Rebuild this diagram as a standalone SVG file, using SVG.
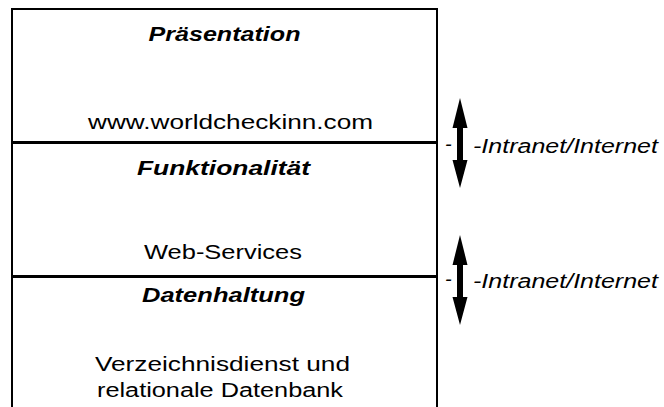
<svg xmlns="http://www.w3.org/2000/svg" width="664" height="407" viewBox="0 0 664 407">
  <style>
    .frame { fill: none; stroke: #000; stroke-width: 2; }
    .divider { stroke: #000; stroke-width: 3; }
    .head { font-family: "Liberation Sans", Arial, sans-serif; font-size: 20px; font-weight: bold; font-style: italic; fill: #000; text-anchor: middle; }
    .body { font-family: "Liberation Sans", Arial, sans-serif; font-size: 20px; fill: #000; text-anchor: middle; }
    .net { font-family: "Liberation Sans", Arial, sans-serif; font-size: 20px; font-style: italic; fill: #000; }
    .arrow { fill: #000; }
  </style>
  <defs>
    <!-- double-headed vertical arrow, centred on (0,0) -->
    <polygon id="dbl" points="0,-45 7.5,-15 3,-15 3,17 7.5,17 0,45 -7.5,17 -3,17 -3,-15 -7.5,-15"/>
  </defs>

  <!-- outer frame (open at the bottom) -->
  <g id="frame">
    <path class="frame" d="M12,408 V9 H437 V408"/>
  </g>

  <g id="connectors">
    <line class="divider" x1="12" y1="142.5" x2="437" y2="142.5"/>
    <line class="divider" x1="12" y1="276.5" x2="437" y2="276.5"/>
  </g>

  <g id="praesentation">
    <text class="head" x="224.5" y="41" textLength="152" lengthAdjust="spacingAndGlyphs">Präsentation</text>
    <text class="body" x="230.5" y="129" textLength="285" lengthAdjust="spacingAndGlyphs">www.worldcheckinn.com</text>
  </g>

  <g id="funktionalitaet">
    <text class="head" x="223.5" y="175" textLength="173" lengthAdjust="spacingAndGlyphs">Funktionalität</text>
    <text class="body" x="223" y="259" textLength="158" lengthAdjust="spacingAndGlyphs">Web-Services</text>
  </g>

  <g id="datenhaltung">
    <text class="head" x="223.5" y="302" textLength="163" lengthAdjust="spacingAndGlyphs">Datenhaltung</text>
    <text class="body" x="222.5" y="371" textLength="255" lengthAdjust="spacingAndGlyphs">Verzeichnisdienst und</text>
    <text class="body" x="220" y="397" textLength="246" lengthAdjust="spacingAndGlyphs">relationale Datenbank</text>
  </g>

  <g id="netz-oben">
    <text class="net" x="445" y="151">-</text>
    <use class="arrow" href="#dbl" x="460" y="143"/>
    <text class="net" x="473" y="153" textLength="185" lengthAdjust="spacingAndGlyphs">-Intranet/Internet</text>
  </g>

  <g id="netz-unten">
    <text class="net" x="445" y="286">-</text>
    <use class="arrow" href="#dbl" x="460" y="280"/>
    <text class="net" x="473" y="288" textLength="185" lengthAdjust="spacingAndGlyphs">-Intranet/Internet</text>
  </g>
</svg>
